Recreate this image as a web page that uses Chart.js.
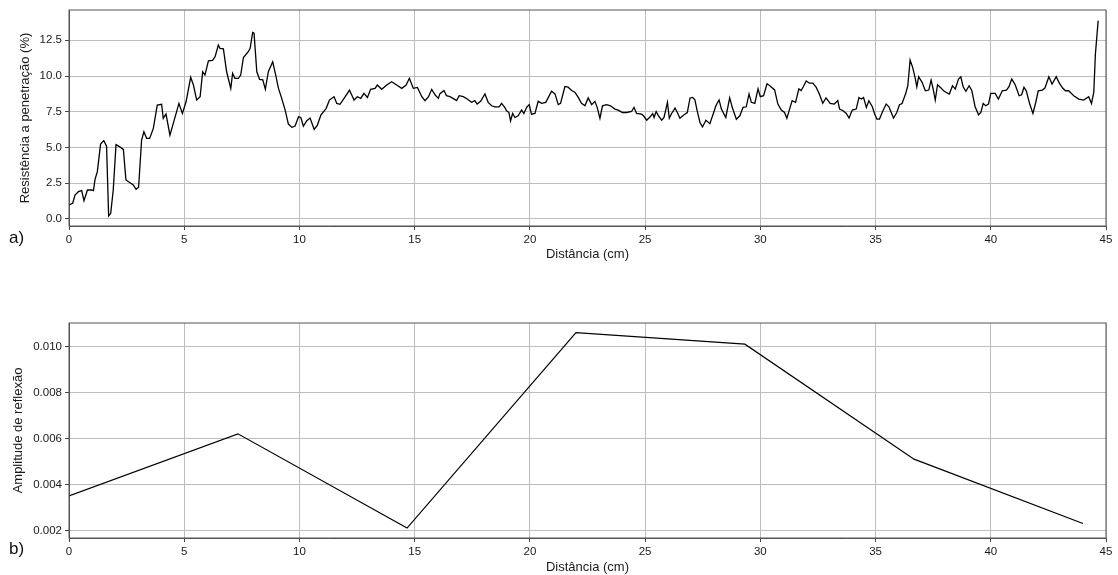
<!DOCTYPE html>
<html>
<head>
<meta charset="utf-8">
<script src="https://cdn.jsdelivr.net/npm/chart.js@4/dist/chart.umd.min.js"></script>
<style>
    body { margin: 0; background: #fff; width: 1118px; height: 575px; overflow: hidden; position: relative; font-family: "Liberation Sans", Arial, sans-serif; }
    canvas { position: absolute; left: 0; }
    #chartA { top: 0; }
    #chartB { top: 290px; }
    .panel-label { position: absolute; left: 9px; font-size: 17px; line-height: 17px; color: #111; }
</style>
</head>
<body>
<canvas id="chartA" width="1118" height="280"></canvas>
<canvas id="chartB" width="1118" height="285"></canvas>
<div class="panel-label" style="top: 229px;">a)</div>
<div class="panel-label" style="top: 540px;">b)</div>
<script>
// a) penetration resistance profile
const distanciaA = [
    0, 0.16, 0.26, 0.41, 0.55, 0.65, 0.80, 0.98, 1.06, 1.13, 1.23, 1.37, 1.51, 1.63, 1.72, 1.81, 1.92,
    2.04, 2.19, 2.36, 2.47, 2.65, 2.79, 2.91, 3.02, 3.15, 3.25, 3.37, 3.5, 3.66, 3.83, 4.02, 4.09,
    4.21, 4.38, 4.6, 4.77, 4.92, 5.08, 5.28, 5.4, 5.54, 5.69, 5.8, 5.9, 6.05, 6.23, 6.34, 6.48,
    6.55, 6.7, 6.84, 7.02, 7.1, 7.2, 7.35, 7.45, 7.57, 7.78, 7.86, 7.97, 8.03, 8.15, 8.27, 8.41,
    8.52, 8.65, 8.84, 8.98, 9.09, 9.23, 9.38, 9.52, 9.67, 9.81, 9.96, 10.06, 10.17, 10.32, 10.46,
    10.64, 10.78, 10.93, 11.16, 11.3, 11.5, 11.62, 11.76, 11.98, 12.17, 12.37, 12.51, 12.66, 12.8,
    12.95, 13.09, 13.28, 13.38, 13.57, 13.79, 14.0, 14.22, 14.44, 14.63, 14.77, 14.94, 15.12, 15.31,
    15.45, 15.6, 15.74, 15.89, 16.03, 16.09, 16.27, 16.38, 16.53, 16.7, 16.82, 16.93, 17.11, 17.28,
    17.47, 17.61, 17.71, 17.86, 18.05, 18.19, 18.34, 18.48, 18.67, 18.77, 18.91, 18.99, 19.09,
    19.16, 19.25, 19.35, 19.49, 19.64, 19.74, 19.86, 19.97, 20.07, 20.22, 20.36, 20.51, 20.69,
    20.94, 21.09, 21.23, 21.33, 21.52, 21.66, 21.81, 21.95, 22.1, 22.24, 22.39, 22.53, 22.68,
    22.82, 22.92, 23.04, 23.15, 23.33, 23.5, 23.69, 23.83, 24.02, 24.2, 24.41, 24.52, 24.63,
    24.85, 24.93, 25.07, 25.22, 25.33, 25.39, 25.48, 25.58, 25.72, 25.82, 25.97, 26.05, 26.15,
    26.3, 26.4, 26.51, 26.69, 26.83, 26.95, 27.06, 27.16, 27.26, 27.38, 27.49, 27.64, 27.81,
    27.95, 28.07, 28.21, 28.31, 28.5, 28.67, 28.79, 28.96, 29.11, 29.25, 29.39, 29.51, 29.61,
    29.76, 29.9, 30.0, 30.14, 30.29, 30.4, 30.62, 30.76, 30.91, 31.05, 31.15, 31.27, 31.38,
    31.53, 31.67, 31.77, 31.87, 31.99, 32.13, 32.28, 32.42, 32.56, 32.71, 32.85, 33.03, 33.21,
    33.36, 33.44, 33.59, 33.73, 33.85, 33.99, 34.16, 34.28, 34.38, 34.48, 34.6, 34.71, 34.86,
    34.96, 35.06, 35.17, 35.32, 35.46, 35.58, 35.68, 35.78, 35.92, 36.04, 36.15, 36.3, 36.4,
    36.5, 36.61, 36.73, 36.79, 36.87, 37.02, 37.16, 37.31, 37.41, 37.51, 37.59, 37.69, 37.84,
    37.98, 38.2, 38.34, 38.46, 38.6, 38.7, 38.8, 38.92, 39.06, 39.18, 39.32, 39.47, 39.57, 39.67,
    39.78, 39.9, 40.0, 40.19, 40.33, 40.5, 40.68, 40.79, 40.91, 41.06, 41.23, 41.34, 41.44,
    41.54, 41.69, 41.83, 41.95, 42.06, 42.24, 42.35, 42.52, 42.66, 42.84, 42.98, 43.12, 43.24,
    43.38, 43.6, 43.82, 44.03, 44.25, 44.37, 44.47, 44.54, 44.66
];
const resistencia = [
    0.98, 1.1, 1.68, 1.91, 1.98, 1.28, 2.03, 2.03, 1.98, 2.77, 3.31, 5.24, 5.48, 5.1, 0.21, 0.4, 2.03,
    5.2, 5.06, 4.87, 2.73, 2.54, 2.38, 2.08, 2.22, 5.52, 6.1, 5.64, 5.64, 6.34, 7.97, 8.02, 7.04,
    7.34, 5.87, 7.11, 8.09, 7.39, 8.2, 9.91, 9.37, 8.32, 8.55, 10.3, 10.07, 11.07, 11.1, 11.35, 12.17,
    11.94, 11.9, 10.3, 9.14, 10.19, 9.84, 9.84, 10.07, 11.3, 11.7, 11.94, 13.05, 13.0, 10.3, 9.77, 9.73,
    9.07, 10.3, 11.0, 10.0, 9.14, 8.44, 7.62, 6.64, 6.41, 6.5, 7.15, 7.1, 6.5, 6.88, 7.06,
    6.27, 6.57, 7.27, 7.74, 8.32, 8.55, 8.08, 8.02, 8.55, 9.02, 8.32, 8.55, 8.44, 8.79,
    8.5, 9.07, 9.14, 9.37, 9.07, 9.37, 9.6, 9.37, 9.14, 9.37, 9.84, 9.14, 9.2, 8.55,
    8.27, 8.55, 9.07, 8.67, 8.44, 8.75, 8.99, 8.63, 8.56, 8.4, 8.28, 8.63, 8.56, 8.4,
    8.16, 8.28, 8.04, 8.23, 8.75, 8.16, 7.92, 7.85, 7.85, 8.09, 7.81, 7.57, 7.45,
    6.86, 7.38, 7.1, 7.22, 7.62, 7.38, 7.81, 8.0, 7.33, 7.38, 8.23, 8.09, 8.16,
    8.94, 8.75, 8.0, 8.09, 9.27, 9.22, 8.99, 8.87, 8.51, 8.09, 7.92, 8.47, 8.0,
    8.23, 7.81, 7.05, 7.92, 8.0, 7.92, 7.69, 7.62, 7.45, 7.45, 7.52, 7.81, 7.38,
    7.33, 7.22, 6.91, 7.15, 7.38, 7.1, 7.52, 7.22, 6.91, 7.1, 8.16, 7.05, 7.38,
    7.76, 7.45, 7.05, 7.29, 7.45, 8.47, 8.51, 8.33, 7.57, 6.75, 6.44, 6.91, 6.67,
    7.33, 7.92, 8.33, 7.69, 7.1, 8.47, 7.76, 6.98, 7.22, 7.81, 7.85, 8.75, 8.16,
    8.09, 9.1, 8.56, 8.63, 9.46, 9.34, 9.03, 8.04, 7.62, 7.45, 7.05, 7.69, 8.28,
    8.16, 9.1, 8.99, 9.27, 9.65, 9.5, 9.5, 9.22, 8.75, 8.09, 8.47, 8.09, 8.04,
    8.28, 7.69, 7.57, 7.38, 7.06, 7.62, 7.69, 8.5, 8.39, 8.5, 7.8, 8.27, 7.85,
    7.34, 6.99, 6.99, 7.57, 8.04, 7.85, 7.45, 7.06, 7.45, 7.99, 8.08, 8.74, 9.32,
    11.12, 10.61, 9.79, 9.25, 9.95, 9.56, 8.97, 9.02, 9.72, 9.02, 8.32, 9.39, 9.16,
    8.93, 8.74, 9.32, 9.09, 9.79, 9.95, 9.25, 8.93, 9.32, 8.97, 7.85, 7.29, 7.45, 8.08,
    7.92, 8.04, 8.79, 8.79, 8.39, 8.97, 9.02, 9.25, 9.79, 9.39, 8.62, 8.69, 9.21,
    8.97, 8.04, 7.38, 8.15, 8.97, 9.02, 9.16, 9.95, 9.44, 9.95, 9.49, 9.16, 8.97,
    8.97, 8.62, 8.39, 8.32, 8.55, 8.08, 8.86, 11.54, 13.88
];
const yTicksA = [0, 2.5, 5, 7.5, 10, 12.5];

// b) reflection amplitude
const distanciaB = [0, 7.33, 14.67, 22, 29.33, 36.67, 44];
const amplitude = [0.0035, 0.0062, 0.0021, 0.0106, 0.0101, 0.0051, 0.0023];
const yTicksB = [0.002, 0.004, 0.006, 0.008, 0.010];

const xTicks = [0, 5, 10, 15, 20, 25, 30, 35, 40, 45];

const tickFont = { family: '"Liberation Sans", Arial, sans-serif', size: 11.5 };
const titleFont = { family: '"Liberation Sans", Arial, sans-serif', size: 13 };
const textColor = '#1a1a1a';
const gridColor = '#bdbdbd';
const spineColor = '#555555';

// draws the box round the plot area, like matplotlib spines
const framePlugin = {
    id: 'frame',
    afterDatasetsDraw(chart) {
        const { ctx, chartArea: a } = chart;
        ctx.save();
        ctx.strokeStyle = spineColor;
        ctx.lineWidth = 1;
        ctx.strokeRect(a.left, a.top, a.right - a.left, a.bottom - a.top);
        ctx.restore();
    }
};

function xScale(axisHeight, titlePadBottom) {
    return {
        type: 'linear',
        min: 0,
        max: 45,
        afterBuildTicks: s => { s.ticks = xTicks.map(v => ({ value: v })); },
        afterFit: s => { s.height = axisHeight; },
        grid: { color: gridColor, lineWidth: 1, tickLength: 4, tickColor: '#444' },
        border: { color: spineColor, width: 1 },
        ticks: { color: textColor, font: tickFont, padding: 3, maxRotation: 0 },
        title: { display: true, text: 'Distância (cm)', color: textColor, font: titleFont, padding: { top: 0, bottom: titlePadBottom } }
    };
}

new Chart(document.getElementById('chartA'), {
    type: 'line',
    data: {
        datasets: [{
            data: distanciaA.map((d, i) => ({ x: d, y: resistencia[i] })),
            borderColor: '#000',
            borderWidth: 1.3,
            pointRadius: 0,
            tension: 0
        }]
    },
    options: {
        responsive: false,
        animation: false,
        layout: { padding: { top: 10, right: 12, left: 0, bottom: 0 } },
        plugins: { legend: { display: false }, tooltip: { enabled: false } },
        scales: {
            x: xScale(54, 18),
            y: {
                min: -0.49,
                max: 14.62,
                afterBuildTicks: s => { s.ticks = yTicksA.map(v => ({ value: v })); },
                afterFit: s => { s.width = 69; },
                grid: { color: gridColor, lineWidth: 1, tickLength: 4, tickColor: '#444' },
                border: { color: spineColor, width: 1 },
                ticks: { color: textColor, font: tickFont, padding: 3, callback: v => v.toFixed(1) },
                title: { display: true, text: 'Resistência a penetração (%)', color: textColor, font: titleFont, padding: { top: 18, bottom: 0 } }
            }
        }
    },
    plugins: [framePlugin]
});

new Chart(document.getElementById('chartB'), {
    type: 'line',
    data: {
        datasets: [{
            data: distanciaB.map((d, i) => ({ x: d, y: amplitude[i] })),
            borderColor: '#000',
            borderWidth: 1.2,
            pointRadius: 0,
            tension: 0
        }]
    },
    options: {
        responsive: false,
        animation: false,
        layout: { padding: { top: 33, right: 12, left: 0, bottom: 0 } },
        plugins: { legend: { display: false }, tooltip: { enabled: false } },
        scales: {
            x: xScale(37, 0),
            y: {
                min: 0.00167,
                max: 0.01102,
                afterBuildTicks: s => { s.ticks = yTicksB.map(v => ({ value: v })); },
                afterFit: s => { s.width = 69; },
                grid: { color: gridColor, lineWidth: 1, tickLength: 4, tickColor: '#444' },
                border: { color: spineColor, width: 1 },
                ticks: { color: textColor, font: tickFont, padding: 3, callback: v => v.toFixed(3) },
                title: { display: true, text: 'Amplitude de reflexão', color: textColor, font: titleFont, padding: { top: 11, bottom: 0 } }
            }
        }
    },
    plugins: [framePlugin]
});
</script>
</body>
</html>
